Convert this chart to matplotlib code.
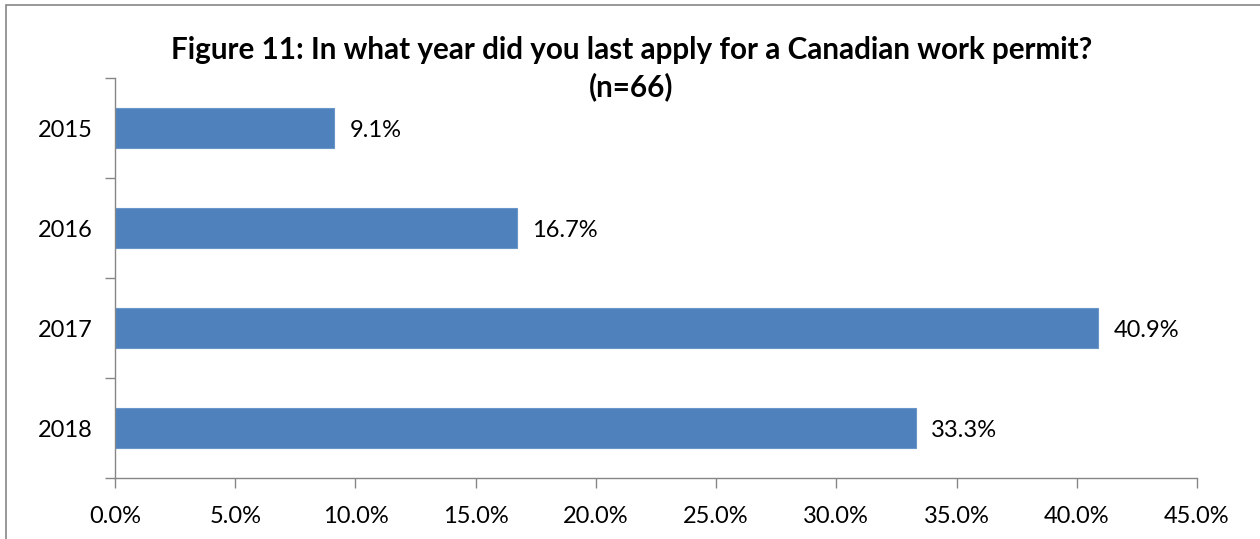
import matplotlib.pyplot as plt
from matplotlib.patches import Rectangle
from matplotlib.ticker import MultipleLocator, FuncFormatter

# survey answers (share of respondents, %)
years = ['2015', '2016', '2017', '2018']
shares = [9.1, 16.7, 40.9, 33.3]

plt.rcParams['font.family'] = ['Lato', 'DejaVu Sans']

fig = plt.figure(figsize=(12.6, 5.39), dpi=100)
ax = fig.add_axes([0.0913, 0.1132, 0.8587, 0.7418])

pos = list(range(len(years)))
ax.barh(pos, shares, height=0.4, color='#4F81BD', edgecolor='#6A95C8', linewidth=0.8)
for y, v in zip(pos, shares):
    ax.text(v + 0.65, y + 0.02, '%.1f%%' % v, va='center', ha='left', fontsize=17)

ax.set_ylim(len(years) - 0.5, -0.5)
ax.set_yticks(pos)
ax.set_yticklabels(years)
ax.set_yticks([p - 0.5 for p in pos] + [len(years) - 0.5], minor=True)
ax.tick_params(axis='y', which='major', length=0, pad=16, labelsize=17)
ax.tick_params(axis='y', which='minor', length=7, color='#868686', width=1)

ax.set_xlim(0, 45)
ax.xaxis.set_major_locator(MultipleLocator(5))
ax.xaxis.set_major_formatter(FuncFormatter(lambda x, p: '%.1f%%' % x))
ax.tick_params(axis='x', length=7, color='#868686', width=1, labelsize=17, pad=13)

for s in ['top', 'right']:
    ax.spines[s].set_visible(False)
for s in ['left', 'bottom']:
    ax.spines[s].set_color('#868686')
    ax.spines[s].set_linewidth(1)

fig.text(0.501, 0.907, 'Figure 11: In what year did you last apply for a Canadian work permit?',
         ha='center', va='center', fontsize=21.3, fontweight='bold')
fig.text(0.501, 0.839, '(n=66)', ha='center', va='center', fontsize=21.3, fontweight='bold')

# chart area border
fig.patches.append(Rectangle((0.005, -0.01), 1.2, 1.0, transform=fig.transFigure,
                             fill=False, edgecolor='#868686', linewidth=1.2))

fig.savefig('out.png', dpi=100)
